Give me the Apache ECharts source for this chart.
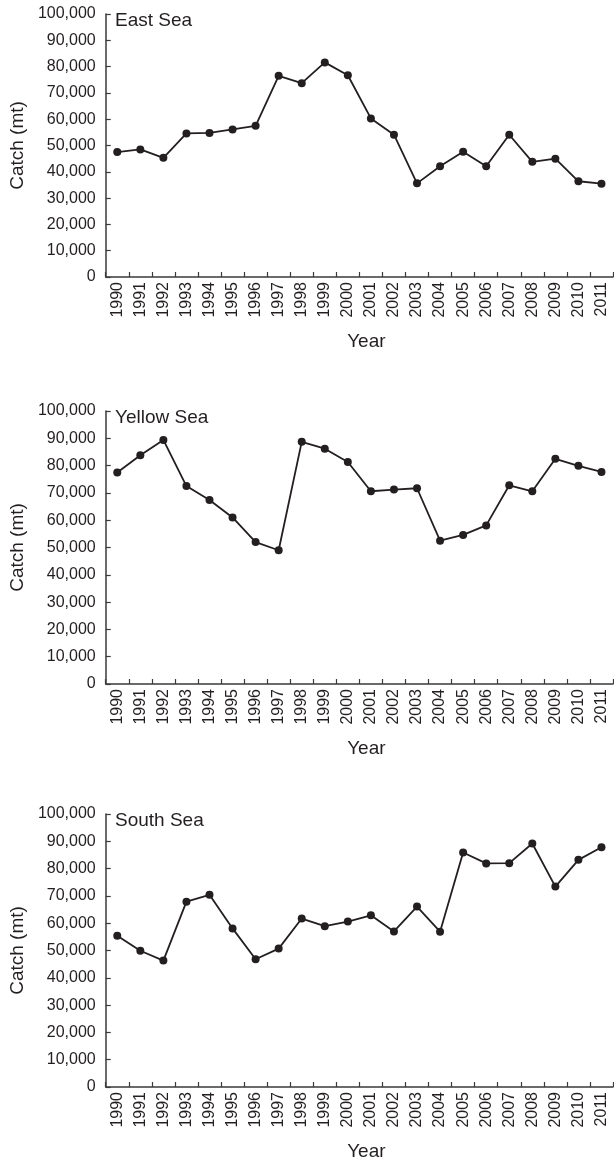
<!DOCTYPE html>
<html>
<head>
<meta charset="utf-8">
<script src="https://cdn.jsdelivr.net/npm/echarts@6/dist/echarts.min.js"></script>
<style>
  html, body { margin: 0; padding: 0; background: #fff; }
  #chart { width: 614px; height: 1163px; }
</style>
</head>
<body>
<div id="chart"></div>
<script>
// Annual catch (metric tons) by sea area, 1990-2011
const years = ['1990','1991','1992','1993','1994','1995','1996','1997','1998','1999','2000',
               '2001','2002','2003','2004','2005','2006','2007','2008','2009','2010','2011'];

const eastSea = [47500, 48500, 45300, 54600, 54800, 56100, 57500, 76500, 73700, 81600, 76700,
                 60300, 54100, 35600, 42100, 47600, 42100, 54100, 43800, 45000, 36400, 35500];

const yellowSea = [77500, 83800, 89400, 72500, 67400, 61000, 52000, 49000, 88700, 86200, 81300,
                   70600, 71200, 71700, 52500, 54600, 58100, 72800, 70600, 82500, 79900, 77700];

const southSea = [55400, 49900, 46300, 67900, 70400, 58100, 46800, 50700, 61700, 58900, 60600,
                  62900, 57000, 66100, 56900, 85900, 81900, 82000, 89200, 73400, 83200, 87800];

const panelTitles = ['East Sea', 'Yellow Sea', 'South Sea'];
const panelSeries = [eastSea, yellowSea, southSea];

const INK = '#231f20';
const AXIS = '#3a3a3a';
const FONT = "'Liberation Sans', Arial, sans-serif";

// vertical placement of each panel's plotting area (top at 100,000, bottom at 0)
const panelBoxes = [
  { top: 14,  height: 263 },
  { top: 411, height: 273 },
  { top: 814, height: 273 }
];

const grids = [], xAxes = [], yAxes = [], series = [], titles = [];

panelBoxes.forEach((box, i) => {
  grids.push({ left: 101, right: 1, top: box.top, height: box.height, containLabel: false });

  xAxes.push({
    type: 'category',
    gridIndex: i,
    data: years,
    boundaryGap: true,
    name: 'Year',
    nameLocation: 'middle',
    nameGap: 55,
    nameTextStyle: { color: INK, fontSize: 19, fontFamily: FONT, padding: [0, 0, 0, 14] },
    axisLine: { show: true, lineStyle: { color: AXIS, width: 1.5 } },
    axisTick: { show: true, inside: true, length: 5, interval: 0,
                lineStyle: { color: AXIS, width: 1.2 } },
    axisLabel: { interval: 0, rotate: 90, margin: 5, color: INK, fontSize: 16, fontFamily: FONT },
    splitLine: { show: false }
  });

  yAxes.push({
    type: 'value',
    gridIndex: i,
    min: 0,
    max: 100000,
    interval: 10000,
    name: 'Catch (mt)',
    nameLocation: 'middle',
    nameRotate: 90,
    nameGap: 74,
    nameTextStyle: { color: INK, fontSize: 19, fontFamily: FONT },
    axisLine: { show: true, lineStyle: { color: AXIS, width: 1.5 } },
    axisTick: { show: true, inside: true, length: 5, lineStyle: { color: AXIS, width: 1.2 } },
    axisLabel: {
      margin: 10, color: INK, fontSize: 16, fontFamily: FONT,
      formatter: v => v.toLocaleString('en-US')
    },
    splitLine: { show: false }
  });

  series.push({
    type: 'line',
    xAxisIndex: i,
    yAxisIndex: i,
    data: panelSeries[i],
    symbol: 'circle',
    symbolSize: 8,
    showAllSymbol: true,
    lineStyle: { color: INK, width: 1.8 },
    itemStyle: { color: INK, borderWidth: 0 },
    animation: false
  });

  titles.push({
    text: panelTitles[i],
    left: 115,
    top: box.top - 3,
    padding: 0,
    textStyle: { color: INK, fontSize: 19, fontWeight: 'normal', fontFamily: FONT }
  });
});

const chart = echarts.init(document.getElementById('chart'), null, { renderer: 'canvas' });
chart.setOption({
  backgroundColor: '#ffffff',
  animation: false,
  title: titles,
  grid: grids,
  xAxis: xAxes,
  yAxis: yAxes,
  series: series
});
</script>
</body>
</html>
